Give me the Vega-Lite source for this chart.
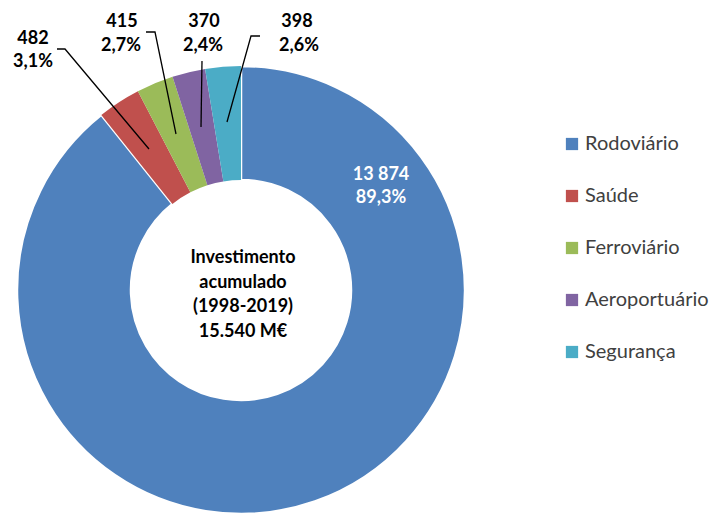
{
  "$schema": "https://vega.github.io/schema/vega-lite/v6.json",
  "width": 482,
  "height": 580,
  "padding": 0,
  "background": "white",
  "config": {"view": {"stroke": null}, "font": "Lato"},
  "datasets": {
    "slices": [
      {"sector": "Rodoviário", "value": 13874, "ord": 1},
      {"sector": "Saúde", "value": 482, "ord": 2},
      {"sector": "Ferroviário", "value": 415, "ord": 3},
      {"sector": "Aeroportuário", "value": 370, "ord": 4},
      {"sector": "Segurança", "value": 398, "ord": 5}
    ],
    "lines": [
      {"sector": "Saúde", "pt": 1, "x": -184, "y": 241},
      {"sector": "Saúde", "pt": 2, "x": -176, "y": 241},
      {"sector": "Saúde", "pt": 3, "x": -92, "y": 141},
      {"sector": "Ferroviário", "pt": 1, "x": -95, "y": 258},
      {"sector": "Ferroviário", "pt": 2, "x": -86, "y": 258},
      {"sector": "Ferroviário", "pt": 3, "x": -65, "y": 156},
      {"sector": "Aeroportuário", "pt": 1, "x": -39, "y": 229},
      {"sector": "Aeroportuário", "pt": 2, "x": -40, "y": 163},
      {"sector": "Segurança", "pt": 1, "x": 19, "y": 254},
      {"sector": "Segurança", "pt": 2, "x": 10, "y": 254},
      {"sector": "Segurança", "pt": 3, "x": -14, "y": 168}
    ],
    "labels": [
      {"text": "13 874", "x": 140, "y": 115, "tone": "light"},
      {"text": "89,3%", "x": 140, "y": 92, "tone": "light"},
      {"text": "482", "x": -208, "y": 251, "tone": "dark"},
      {"text": "3,1%", "x": -208, "y": 228, "tone": "dark"},
      {"text": "415", "x": -119, "y": 268, "tone": "dark"},
      {"text": "2,7%", "x": -120, "y": 244, "tone": "dark"},
      {"text": "370", "x": -37, "y": 268, "tone": "dark"},
      {"text": "2,4%", "x": -38, "y": 244, "tone": "dark"},
      {"text": "398", "x": 56, "y": 268, "tone": "dark"},
      {"text": "2,6%", "x": 58, "y": 244, "tone": "dark"},
      {"text": "Investimento", "x": 2, "y": 32, "tone": "dark"},
      {"text": "acumulado", "x": 2, "y": 7, "tone": "dark"},
      {"text": "(1998-2019)", "x": 2, "y": -17, "tone": "dark"},
      {"text": "15.540 M€", "x": 2, "y": -42, "tone": "dark"}
    ]
  },
  "layer": [
    {
      "data": {"name": "slices"},
      "mark": {"type": "arc", "innerRadius": 110, "outerRadius": 224, "stroke": "white"},
      "encoding": {
        "theta": {"field": "value", "type": "quantitative", "stack": true},
        "order": {"field": "ord", "type": "quantitative"},
        "strokeWidth": {"condition": {"test": "datum.sector === 'Rodoviário'", "value": 2.5}, "value": 0},
        "color": {
          "field": "sector",
          "type": "nominal",
          "scale": {
            "domain": ["Rodoviário", "Saúde", "Ferroviário", "Aeroportuário", "Segurança"],
            "range": ["#4F81BD", "#C0504D", "#9BBB59", "#8064A2", "#4BACC6"]
          },
          "legend": {
            "title": null,
            "orient": "none",
            "legendX": 562,
            "legendY": 134,
            "symbolType": "square",
            "symbolSize": 150,
            "symbolStrokeWidth": 0,
            "labelFontSize": 20,
            "labelFont": "Lato",
            "labelColor": "#404040",
            "labelOffset": 3,
            "rowPadding": 32
          }
        }
      }
    },
    {
      "data": {"name": "lines"},
      "mark": {"type": "line", "color": "black", "strokeWidth": 1.3},
      "encoding": {
        "x": {"field": "x", "type": "quantitative", "scale": {"domain": [-241, 241], "nice": false}, "axis": null},
        "y": {"field": "y", "type": "quantitative", "scale": {"domain": [-290, 290], "nice": false}, "axis": null},
        "detail": {"field": "sector"},
        "order": {"field": "pt", "type": "quantitative"}
      }
    },
    {
      "data": {"name": "labels"},
      "transform": [{"filter": "datum.tone === 'dark'"}],
      "mark": {"type": "text", "fontWeight": "bold", "fontSize": 18, "color": "black", "baseline": "middle"},
      "encoding": {
        "x": {"field": "x", "type": "quantitative"},
        "y": {"field": "y", "type": "quantitative"},
        "text": {"field": "text"}
      }
    },
    {
      "data": {"name": "labels"},
      "transform": [{"filter": "datum.tone === 'light'"}],
      "mark": {"type": "text", "fontWeight": "bold", "fontSize": 18, "color": "white", "baseline": "middle"},
      "encoding": {
        "x": {"field": "x", "type": "quantitative"},
        "y": {"field": "y", "type": "quantitative"},
        "text": {"field": "text"}
      }
    }
  ]
}
